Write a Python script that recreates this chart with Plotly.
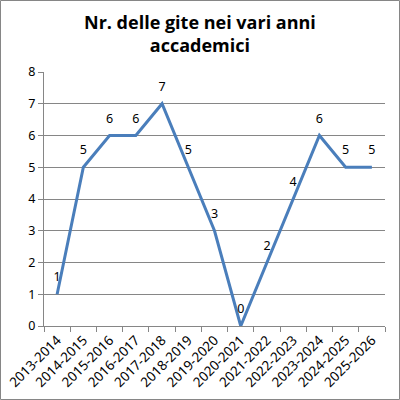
import plotly.graph_objects as go

years = ["2013-2014", "2014-2015", "2015-2016", "2016-2017", "2017-2018", "2018-2019",
         "2019-2020", "2020-2021", "2021-2022", "2022-2023", "2023-2024", "2024-2025", "2025-2026"]
gite = [1, 5, 6, 6, 7, 5, 3, 0, 2, 4, 6, 5, 5]
y_ticks = [0, 1, 2, 3, 4, 5, 6, 7, 8]

L, R, T, B = 44, 15, 72, 74
W = H = 400
pw, ph = W - L - R, H - T - B

def py(pix):
    # pixel row (from top) -> paper y
    return (H - B - pix) / ph

def px(pix):
    return (pix - L) / pw

fig = go.Figure()
fig.add_trace(go.Scatter(
    x=years, y=gite, mode="lines+markers+text", text=[str(v) for v in gite],
    textposition="top center", textfont=dict(family="Noto Sans", size=12.5, color="#000000"),
    marker=dict(size=14, opacity=0),
    line=dict(color="#4A7EBB", width=3), cliponaxis=False, hoverinfo="skip"))

fig.update_layout(
    width=W, height=H, margin=dict(l=L, r=R, t=T, b=B, autoexpand=False),
    paper_bgcolor="white", plot_bgcolor="white", showlegend=False,
    xaxis=dict(type="category", showgrid=False, showline=True, linecolor="#868686", linewidth=1,
               ticks="outside", tickson="boundaries", ticklen=5, tickcolor="#868686",
               tickangle=-45, tickfont=dict(family="Noto Sans", size=13.5, color="#000000"),
               range=[-0.5, len(years) - 0.5], automargin=False),
    yaxis=dict(range=[0, 8], tickvals=y_ticks, showgrid=True, gridcolor="#868686", gridwidth=1,
               showline=True, linecolor="#868686", linewidth=1, ticks="outside", ticklen=5,
               tickcolor="#868686", zeroline=False, automargin=False,
               tickfont=dict(family="Noto Sans", size=12.5, color="#000000")),
    annotations=[dict(text="<b>Nr. delle gite nei vari anni<br>accademici</b>",
                      xref="paper", yref="paper", x=px(200), y=py(33),
                      xanchor="center", yanchor="middle", showarrow=False,
                      font=dict(family="Open Sans", size=18, color="#000000"))],
    shapes=[dict(type="rect", xref="paper", yref="paper",
                 x0=px(0.5), x1=px(W - 0.5), y0=py(H - 0.5), y1=py(0.5),
                 line=dict(color="#868686", width=1), layer="below")],
)
fig.write_html("out.html", config={"displayModeBar": False},
               post_script="document.body.style.margin='0px';document.body.style.overflow='hidden';")
